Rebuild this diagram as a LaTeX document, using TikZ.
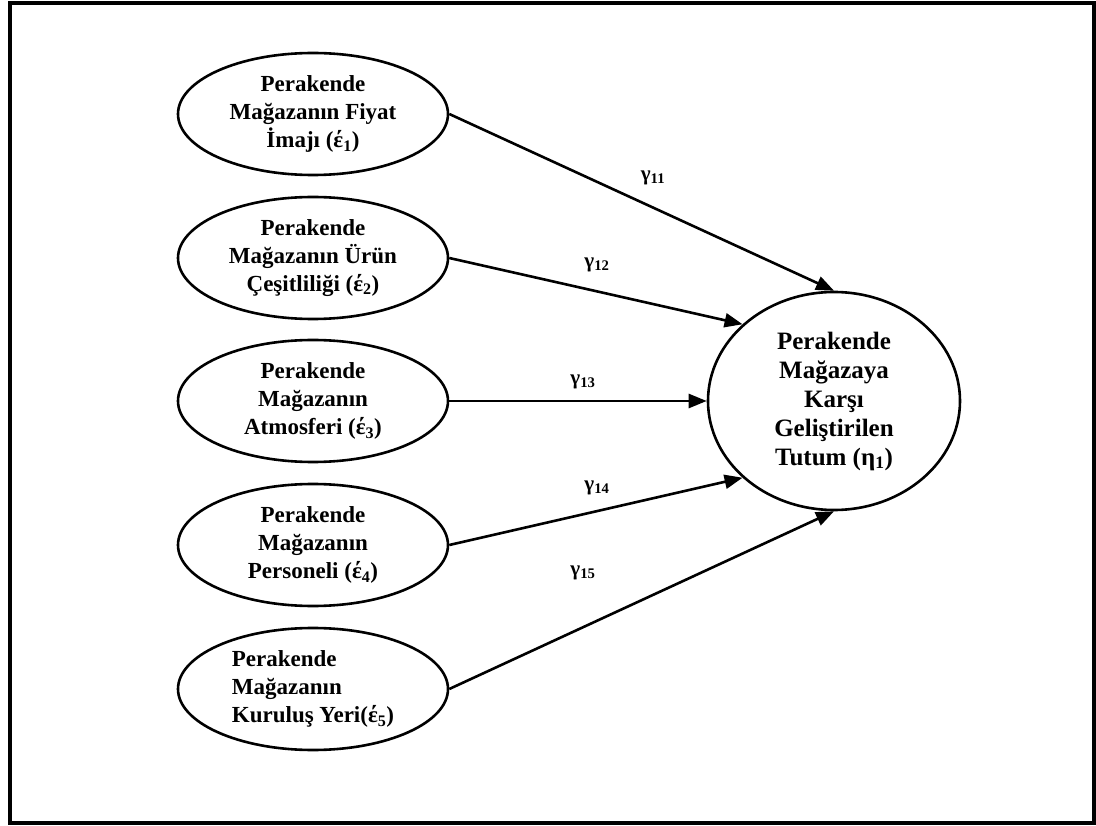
\documentclass[tikz,border=0pt]{standalone}
\usepackage{fontspec}
\setmainfont{Liberation Serif}
\usetikzlibrary{arrows.meta,shapes.geometric}

\begin{document}
\begin{tikzpicture}[x=1pt,y=-1pt,
  cause/.style={ellipse,draw,line width=2.6pt,minimum width=270pt,
    minimum height=122pt,inner sep=0pt,align=center,
    font=\fontsize{23}{27.8}\selectfont\bfseries},
  effect/.style={ellipse,draw,line width=2.6pt,minimum width=252pt,
    minimum height=218pt,inner sep=0pt,align=center,
    font=\fontsize{25}{29}\selectfont\bfseries},
  link/.style={line width=2.6pt,-{Triangle[length=18pt,width=14pt]}},
  coef/.style={inner sep=0pt,font=\fontsize{21}{23}\selectfont\bfseries}]

  % page and frame
  \useasboundingbox (0,0) rectangle (1096,826);
  \draw[line width=4pt] (10,3) rectangle (1094,823);

  % exogenous constructs
  \node[cause] (f1) at (313,114) {Perakende\\Mağazanın Fiyat\\İmajı (έ\textsubscript{1})};
  \node[cause] (f2) at (313,258) {Perakende\\Mağazanın Ürün\\Çeşitliliği (έ\textsubscript{2})};
  \node[cause] (f3) at (313,401) {Perakende\\Mağazanın\\Atmosferi (έ\textsubscript{3})};
  \node[cause] (f4) at (313,545) {Perakende\\Mağazanın\\Personeli (έ\textsubscript{4})};
  \node[cause,align=left] (f5) at (313,689) {Perakende\\Mağazanın\\Kuruluş Yeri(έ\textsubscript{5})};

  % endogenous construct
  \node[effect] (att) at (834,401) {Perakende\\Mağazaya\\Karşı\\Geliştirilen\\Tutum (η\textsubscript{1})};

  % structural paths
  \draw[link] (f1.east) -- (att.north);
  \draw[link] (f2.east) -- (att.140);
  \draw[link] (f3.east) -- (att.west);
  \draw[link] (f4.east) -- (att.220);
  \draw[link] (f5.east) -- (att.south);

  % path coefficients
  \node[coef] (g11) at (653,178) {γ\textsubscript{11}};
  \node[coef] (g12) at (597,265) {γ\textsubscript{12}};
  \node[coef] (g13) at (583,382) {γ\textsubscript{13}};
  \node[coef] (g14) at (597,488) {γ\textsubscript{14}};
  \node[coef] (g15) at (583,573) {γ\textsubscript{15}};
\end{tikzpicture}
\end{document}
